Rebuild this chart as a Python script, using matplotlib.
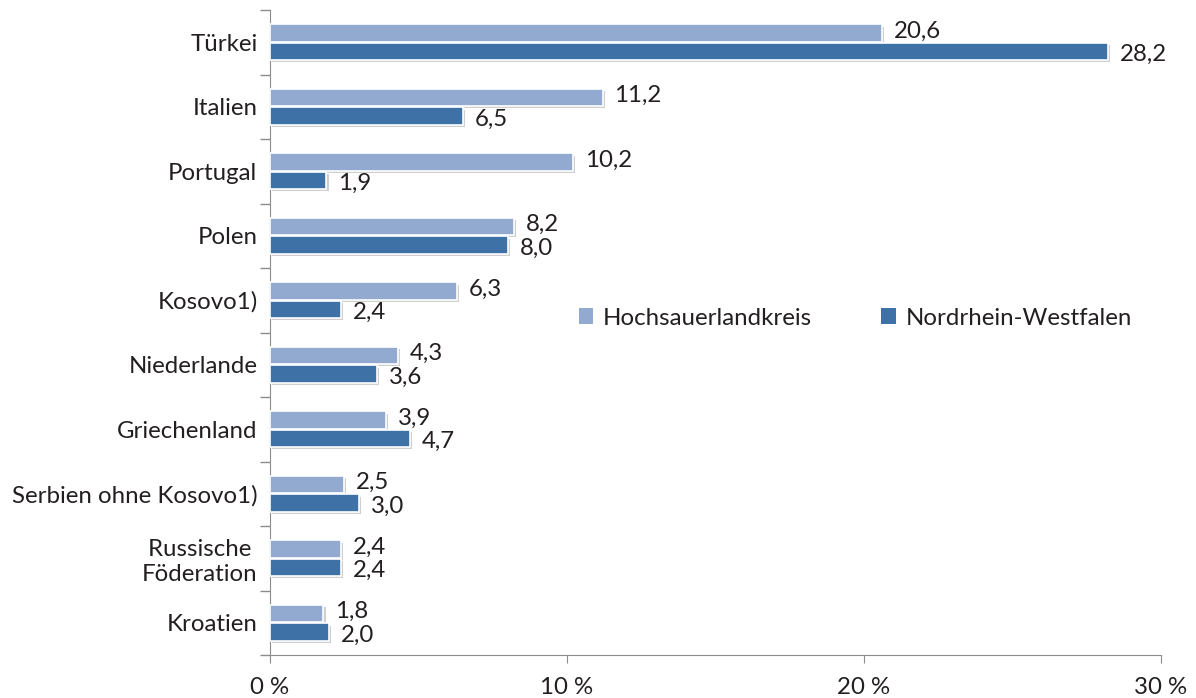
import matplotlib
matplotlib.use("Agg")
import matplotlib.pyplot as plt
import matplotlib.patheffects as pe
from matplotlib.patches import Patch

plt.rcParams['font.family'] = ['Lato', 'DejaVu Sans']

LIGHT = "#93aad0"
DARK = "#3e71a6"
SPINE = "#8c8c8c"
TXT = "#231f20"
FS = 17.3

countries = ["Türkei", "Italien", "Portugal", "Polen", "Kosovo1)", "Niederlande",
             "Griechenland", "Serbien ohne Kosovo1)", "Russische \nFöderation", "Kroatien"]
hsk = [20.6, 11.2, 10.2, 8.2, 6.3, 4.3, 3.9, 2.5, 2.4, 1.8]
nrw = [28.2, 6.5, 1.9, 8.0, 2.4, 3.6, 4.7, 3.0, 2.4, 2.0]
xticks = [0, 10, 20, 30]
xticklabels = ["0 %", "10 %", "20 %", "30 %"]

fig = plt.figure(figsize=(11.96, 6.98), dpi=100)
ax = fig.add_axes([270 / 1196, 1 - 655 / 698, (1161 - 270) / 1196, 645 / 698])

ys = list(range(len(countries)))
h = 0.265
off = 0.143
shadow = [pe.SimplePatchShadow(offset=(1.5, -1.5), shadow_rgbFace="#b0b0b0", alpha=0.6), pe.Normal()]

b1 = ax.barh([y - off for y in ys], hsk, height=h, color=LIGHT, edgecolor="white", linewidth=1.2, zorder=3)
b2 = ax.barh([y + off for y in ys], nrw, height=h, color=DARK, edgecolor="white", linewidth=1.2, zorder=3)
for b in list(b1) + list(b2):
    b.set_path_effects(shadow)

for y, v in zip(ys, hsk):
    ax.text(v + 0.4, y - off - 0.03, f"{v:.1f}".replace(".", ","), ha="left", va="center",
            fontsize=FS, color=TXT, zorder=5)
for y, v in zip(ys, nrw):
    ax.text(v + 0.4, y + off + 0.05, f"{v:.1f}".replace(".", ","), ha="left", va="center",
            fontsize=FS, color=TXT, zorder=5)

ax.set_xlim(0, 30)
ax.set_ylim(len(countries) - 0.5, -0.5)
ax.set_xticks(xticks)
ax.set_xticklabels(xticklabels, fontsize=FS, color=TXT)
ax.tick_params(axis="x", length=6, color=SPINE, pad=10)

ax.set_yticks(ys)
ax.set_yticklabels(countries, fontsize=FS, color=TXT)
ax.tick_params(axis="y", which="major", length=0, pad=9)
ax.set_yticks([y - 0.5 for y in ys] + [len(ys) - 0.5], minor=True)
ax.tick_params(axis="y", which="minor", length=7, color=SPINE, width=1)

for s in ["top", "right"]:
    ax.spines[s].set_visible(False)
ax.spines["left"].set_color(SPINE)
ax.spines["bottom"].set_color(SPINE)

handles = [Patch(facecolor=LIGHT, label="Hochsauerlandkreis"),
           Patch(facecolor=DARK, label="Nordrhein-Westfalen")]
ax.legend(handles=handles, loc="center left", bbox_to_anchor=((557 - 270) / 891, 1 - (318 - 10) / 645),
          ncol=2, frameon=False, fontsize=FS, handlelength=0.6, handleheight=0.6,
          handletextpad=0.4, columnspacing=2.9, labelcolor=TXT)

fig.savefig("out.png", dpi=100, facecolor="white")
